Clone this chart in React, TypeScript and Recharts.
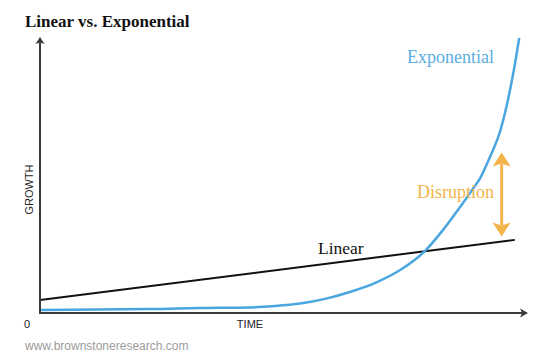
import React from 'react';
import { LineChart, Line, XAxis, YAxis, ReferenceLine } from 'recharts';

// Exponential curve (time, growth)
const expTime = [0, 12.3, 22.5, 32.8, 43.0, 48.2, 53.3, 58.4, 63.5, 68.6, 73.8, 78.9, 82.6, 86.1, 88.7, 90.2, 92.2, 94.3, 95.9, 97.1, 98.2];
const expGrowth = [1.1, 1.3, 1.4, 1.8, 2.0, 2.5, 3.4, 5.1, 7.6, 10.8, 15.5, 22.4, 30.0, 38.3, 44.8, 48.7, 56.3, 65.7, 77.0, 87.7, 99.3];
// Linear line
const linTime = [0, 97.3];
const linGrowth = [4.7, 26.4];
// Disruption arrow
const disruptionTime = 94.6;
const disruptionRange = [27.6, 57.9];
// Axis extents
const timeDomain = [0, 100];
const growthDomain = [0, 100];

const expData = expTime.map((t, i) => ({ t, g: expGrowth[i] }));
const linData = linTime.map((t, i) => ({ t, g: linGrowth[i] }));

const AXIS = '#3a3a3a';
const BLUE = '#4aa6df';
const ORANGE = '#f2b44a';

const YAxisShape = (p: any) => {
  const { x1, y1, x2, y2 } = p;
  const tx = x2, ty = y2 + 1;
  return (
    <g>
      <line x1={x1} y1={y1 + 1} x2={x2} y2={ty + 4} stroke={AXIS} strokeWidth={2} />
      <path d={`M${tx},${ty} L${tx - 4.5},${ty + 7} L${tx},${ty + 5.5} L${tx + 4.5},${ty + 7} Z`} fill={AXIS} />
    </g>
  );
};

const XAxisShape = (p: any) => {
  const { x1, y1, x2, y2 } = p;
  const tx = x2, ty = y2;
  return (
    <g>
      <line x1={x1 - 1} y1={y1} x2={tx - 4} y2={ty} stroke={AXIS} strokeWidth={2} />
      <path d={`M${tx},${ty} L${tx - 8},${ty - 4.5} L${tx - 6},${ty} L${tx - 8},${ty + 4.5} Z`} fill={AXIS} />
    </g>
  );
};

const DoubleArrow = (p: any) => {
  const { x1, y1, x2, y2 } = p;
  const x = x1;
  const bottom = Math.max(y1, y2);
  const top = Math.min(y1, y2);
  const L = 14, W = 9, N = 3;
  return (
    <g>
      <line x1={x} y1={top + L - N} x2={x} y2={bottom - L + N} stroke={ORANGE} strokeWidth={3} />
      <path d={`M${x},${top} L${x + W},${top + L} L${x},${top + L - N} L${x - W},${top + L} Z`} fill={ORANGE} />
      <path d={`M${x},${bottom} L${x + W},${bottom - L} L${x},${bottom - L + N} L${x - W},${bottom - L} Z`} fill={ORANGE} />
    </g>
  );
};

const serif = '"Liberation Serif", "Times New Roman", serif';
const sans = '"Liberation Sans", Arial, sans-serif';

export default function App() {
  return (
    <div style={{ position: 'relative', width: 560, height: 363, background: '#fff' }}>
      <style>{'body{margin:0;}'}</style>
      <LineChart width={560} height={363} margin={{ top: 36, right: 32, bottom: 50, left: 40 }}>
        <XAxis type="number" dataKey="t" domain={timeDomain} hide allowDataOverflow />
        <YAxis type="number" dataKey="g" domain={growthDomain} hide allowDataOverflow />
        <Line data={linData} dataKey="g" type="linear" stroke="#111" strokeWidth={2} dot={false} isAnimationActive={false} />
        <Line data={expData} dataKey="g" type="monotone" stroke={BLUE} strokeWidth={2.5} dot={false} isAnimationActive={false} />
        <ReferenceLine
          segment={[{ x: timeDomain[0], y: growthDomain[0] }, { x: timeDomain[0], y: growthDomain[1] }]}
          shape={YAxisShape}
          ifOverflow="visible"
        />
        <ReferenceLine
          segment={[{ x: timeDomain[0], y: growthDomain[0] }, { x: timeDomain[1], y: growthDomain[0] }]}
          shape={XAxisShape}
          ifOverflow="visible"
        />
        <ReferenceLine
          segment={[{ x: disruptionTime, y: disruptionRange[0] }, { x: disruptionTime, y: disruptionRange[1] }]}
          shape={DoubleArrow}
          ifOverflow="visible"
        />
      </LineChart>
      <svg width={560} height={363} style={{ position: 'absolute', left: 0, top: 0, pointerEvents: 'none' }}>
        <text x={25} y={27} fontFamily={serif} fontWeight="bold" fontSize={17} fill="#111">Linear vs. Exponential</text>
        <text x={407} y={62.5} fontFamily={serif} fontSize={18} fill="#5aaee0">Exponential</text>
        <text x={417} y={198} fontFamily={serif} fontSize={18} fill={ORANGE}>Disruption</text>
        <text x={318} y={254} fontFamily={serif} fontSize={17.5} fill="#111">Linear</text>
        <text x={27} y={327.5} textAnchor="middle" fontFamily={sans} fontSize={11} fill="#222">0</text>
        <text x={250} y={327.5} textAnchor="middle" fontFamily={sans} fontSize={11} fill="#222">TIME</text>
        <text transform="translate(33,189.5) rotate(-90)" textAnchor="middle" fontFamily={sans} fontSize={11} fill="#222">GROWTH</text>
        <text x={25} y={350} fontFamily={sans} fontSize={12} fill="#9b9b9b">www.brownstoneresearch.com</text>
      </svg>
    </div>
  );
}
